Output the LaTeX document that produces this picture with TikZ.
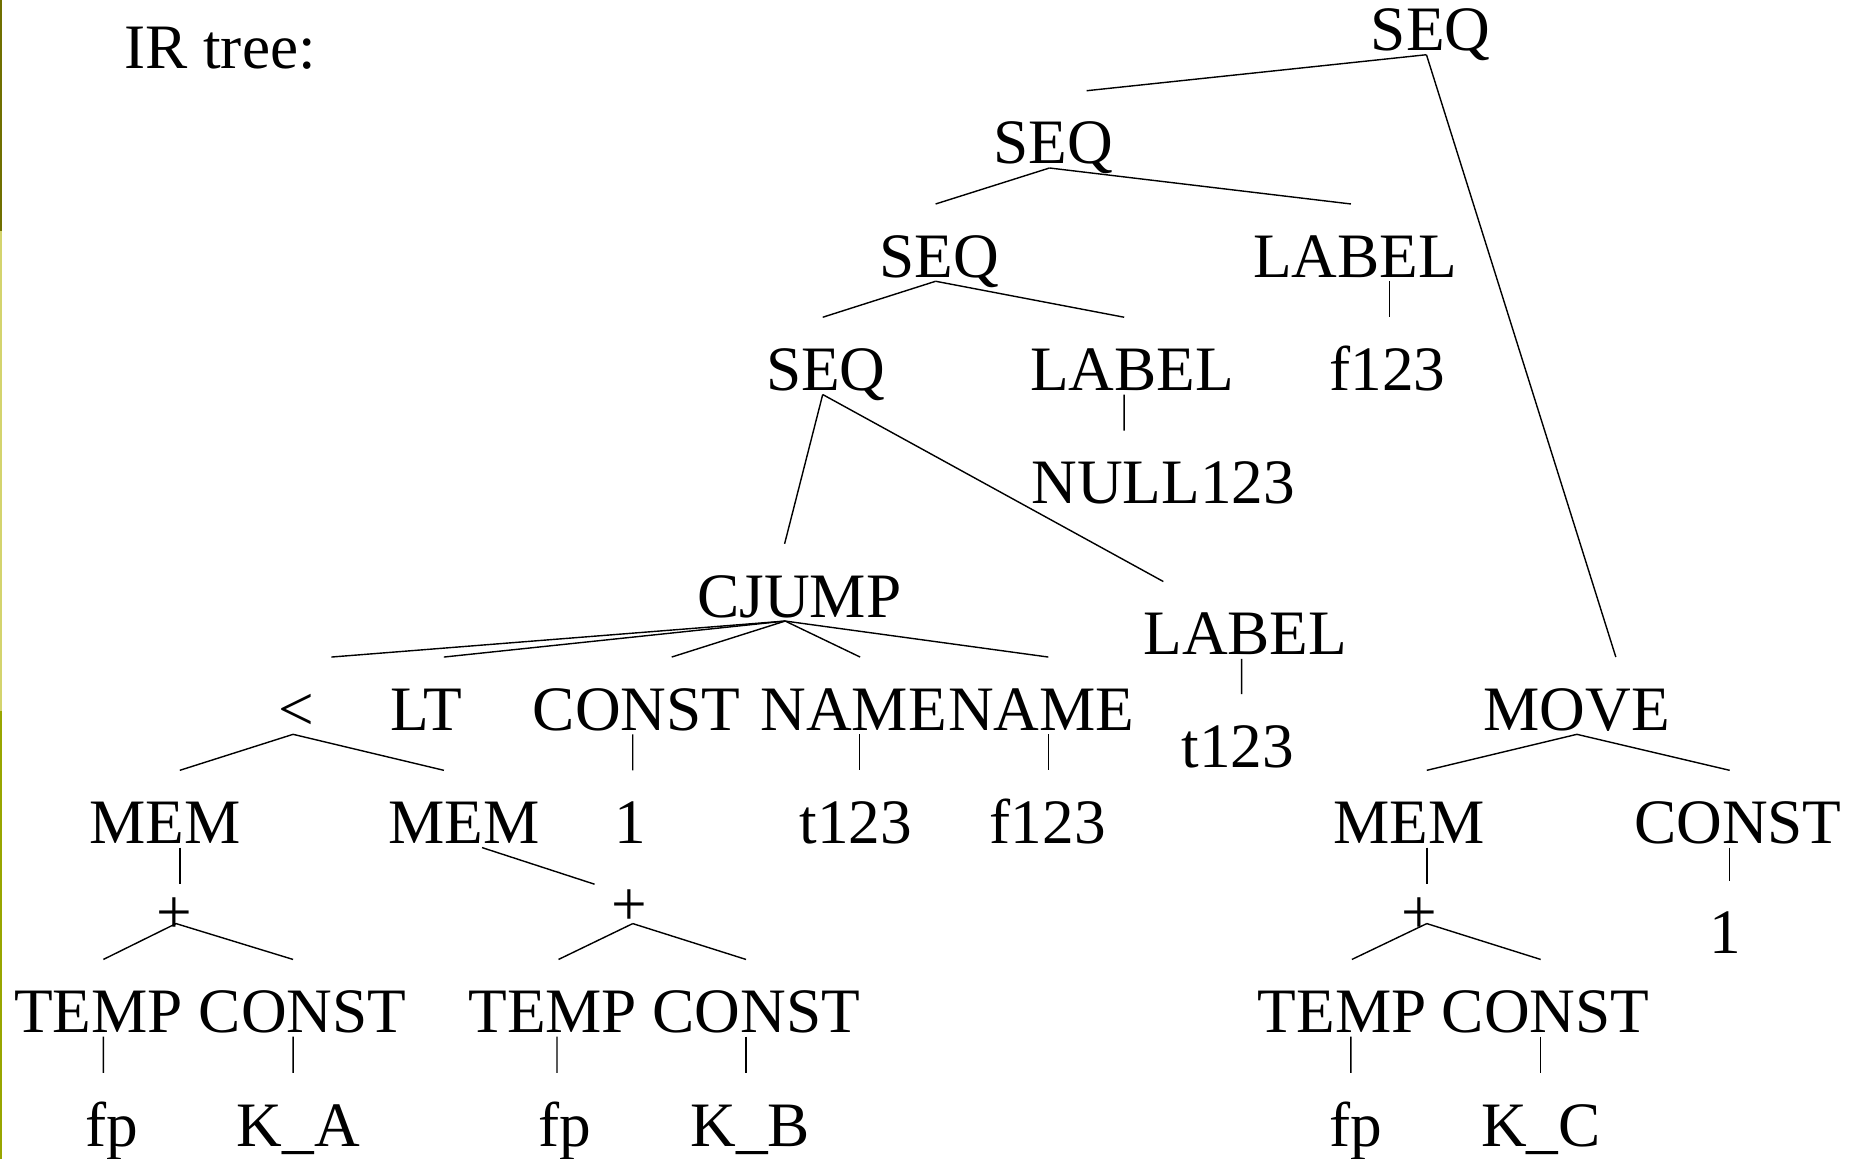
\documentclass[tikz,border=0pt]{standalone}
\usepackage{fontspec}
\setmainfont{Liberation Serif}
\newdimen\pxu \pxu=0.011798cm
\definecolor{stripA}{RGB}{112,112,0}
\definecolor{stripB}{RGB}{212,212,110}
\definecolor{stripC}{RGB}{152,166,0}
\begin{document}
\begin{tikzpicture}[x=0.011798cm, y=-0.011798cm,
  w/.style={font=\fontsize{18}{21}\selectfont, anchor=base, inner xsep=0pt, inner ysep=0.94pt, text height=19.7pt, text depth=0pt},
  op/.style={w, inner ysep=-2.95pt, text height=16.7pt},
  e/.style={line width=0.4pt}]
\useasboundingbox (0,0) rectangle (1568,982);
% left border strip
\fill[stripA] (0,0) rectangle (1.7,196);
\fill[stripB] (0,196) rectangle (1.7,603);
\fill[stripC] (0,603) rectangle (1.7,982);
\node[w] (title) at (186.5,58) {IR tree:};
% upper spine
\node[w] (s1) at (1212.5,43) {SEQ};
\node[w] (s2) at (892.5,139) {SEQ};
\node[w] (s3) at (796,235) {SEQ};
\node[w] (l1) at (1148.5,235) {LABEL};
\node[w] (f1) at (1176,331) {f123};
\node[w] (s4) at (700,331) {SEQ};
\node[w] (l2) at (959.5,331) {LABEL};
\node[w] (null) at (986,427) {NULL123};
\node[w] (cj) at (677.5,523) {CJUMP};
\node[w] (l3) at (1055.5,555) {LABEL};
\node[w] (t3) at (1049,650.5) {t123};
% CJUMP subtree
\node[w] (lt) at (251,619) {<};
\node[w] (ltn) at (361.5,619) {LT};
\node[w] (c1) at (539.5,619) {CONST};
\node[w] (n1) at (723.5,619) {NAME};
\node[w] (n2) at (882.5,619) {NAME};
\node[w] (m1) at (140,715) {MEM};
\node[w] (m2) at (393,715) {MEM};
\node[w] (one1) at (534,715) {1};
\node[w] (t2) at (725.5,715) {t123};
\node[w] (f2) at (888,715) {f123};
\node[op] (p1) at (148,791) {+};
\node[op, text height=12pt, inner ysep=-0.6pt] (p2) at (533,784) {+};
\node[w] (tp1) at (83.5,875.3) {TEMP};
\node[w] (c3) at (256.5,875.3) {CONST};
\node[w] (tp2) at (468.5,875.3) {TEMP};
\node[w] (c4) at (641,875.3) {CONST};
\node[w] (fp1) at (95,971.4) {fp};
\node[w] (ka) at (253,971.4) {K\_A};
\node[w] (fp2) at (479,971.4) {fp};
\node[w] (kb) at (636,971.4) {K\_B};
% MOVE subtree
\node[w] (mv) at (1336.5,619) {MOVE};
\node[w] (m3) at (1194,715) {MEM};
\node[w] (c2) at (1473,715) {CONST};
\node[op] (p3) at (1203,791) {+};
\node[w] (one2) at (1462,808.5) {1};
\node[w] (tp3) at (1137.5,875.3) {TEMP};
\node[w] (c5) at (1310,875.3) {CONST};
\node[w] (fp3) at (1149,971.4) {fp};
\node[w] (kc) at (1306,971.4) {K\_C};
% edges
\draw[e] ([xshift=-3.5\pxu]s1.south) -- ([xshift=28.5\pxu]s2.north);
\draw[e] ([xshift=-3.5\pxu]s1.south) -- ([xshift=33\pxu]mv.north);
\draw[e] ([xshift=-3\pxu]s2.south) -- ([xshift=-3\pxu]s3.north);
\draw[e] ([xshift=-3\pxu]s2.south) -- ([xshift=-3.5\pxu]l1.north);
\draw[e] ([xshift=-3\pxu]s3.south) -- ([xshift=-2.7\pxu]s4.north);
\draw[e] ([xshift=-3\pxu]s3.south) -- ([xshift=-6.7\pxu]l2.north);
\draw[e] ([xshift=29\pxu]l1.south) -- ([xshift=1.5\pxu]f1.north);
\draw[e] ([xshift=-2.7\pxu]s4.south) -- ([xshift=-12.5\pxu]cj.north);
\draw[e] ([xshift=-2.7\pxu]s4.south) -- ([xshift=-69.5\pxu]l3.north);
\draw[e] ([xshift=-6.7\pxu]l2.south) -- ([xshift=-33.2\pxu]null.north);
\draw[e] ([xshift=-12\pxu]cj.south) -- ([xshift=29.8\pxu]lt.north);
\draw[e] ([xshift=-12\pxu]cj.south) -- ([xshift=14.7\pxu]ltn.north);
\draw[e] ([xshift=-12\pxu]cj.south) -- ([xshift=29.8\pxu]c1.north);
\draw[e] ([xshift=-12\pxu]cj.south) -- ([xshift=5.5\pxu]n1.north);
\draw[e] ([xshift=-12\pxu]cj.south) -- ([xshift=6\pxu]n2.north);
\draw[e] ([xshift=-3.2\pxu]l3.south) -- ([xshift=3.3\pxu]t3.north);
\draw[e] ([xshift=-2.6\pxu]lt.south) -- ([xshift=12.4\pxu]m1.north);
\draw[e] ([xshift=-2.6\pxu]lt.south) -- ([xshift=-16.8\pxu]m2.north);
\draw[e] ([xshift=-3.2\pxu]c1.south) -- ([xshift=2.3\pxu]one1.north);
\draw[e] ([xshift=4.8\pxu]n1.south) -- ([xshift=2.8\pxu]t2.north);
\draw[e] ([xshift=6\pxu]n2.south) -- ([xshift=0.5\pxu]f2.north);
\draw[e] (mv.south) -- ([xshift=15.3\pxu]m3.north);
\draw[e] (mv.south) -- ([xshift=-7\pxu]c2.north);
\draw[e] ([xshift=12.4\pxu]m1.south) -- ([xshift=4.4\pxu]p1.north);
\draw[e] ([xshift=15.6\pxu]m2.south) -- ([xshift=-29.1\pxu]p2.north);
\draw[e] ([xshift=15.3\pxu]m3.south) -- ([xshift=6.3\pxu]p3.north);
\draw[e] ([xshift=-7\pxu]c2.south) -- ([xshift=4\pxu]one2.north);
\draw[e] ([xshift=1.2\pxu]p1.south) -- ([xshift=4.1\pxu]tp1.north);
\draw[e] ([xshift=1.2\pxu]p1.south) -- ([xshift=-8.1\pxu]c3.north);
\draw[e] ([xshift=3.3\pxu]p2.south) -- ([xshift=4.9\pxu]tp2.north);
\draw[e] ([xshift=3.3\pxu]p2.south) -- ([xshift=-8.7\pxu]c4.north);
\draw[e] ([xshift=6.3\pxu]p3.south) -- ([xshift=8.3\pxu]tp3.north);
\draw[e] ([xshift=6.3\pxu]p3.south) -- ([xshift=-4.2\pxu]c5.north);
\draw[e] ([xshift=4.1\pxu]tp1.south) -- ([xshift=-7.4\pxu]fp1.north);
\draw[e] ([xshift=-8.1\pxu]c3.south) -- ([xshift=-4.6\pxu]ka.north);
\draw[e] ([xshift=3.6\pxu]tp2.south) -- ([xshift=-6.9\pxu]fp2.north);
\draw[e] ([xshift=-8.7\pxu]c4.south) -- ([xshift=-3.7\pxu]kb.north);
\draw[e] ([xshift=7.5\pxu]tp3.south) -- ([xshift=-4\pxu]fp3.north);
\draw[e] ([xshift=-4.2\pxu]c5.south) -- ([xshift=-0.2\pxu]kc.north);
\end{tikzpicture}
\end{document}
